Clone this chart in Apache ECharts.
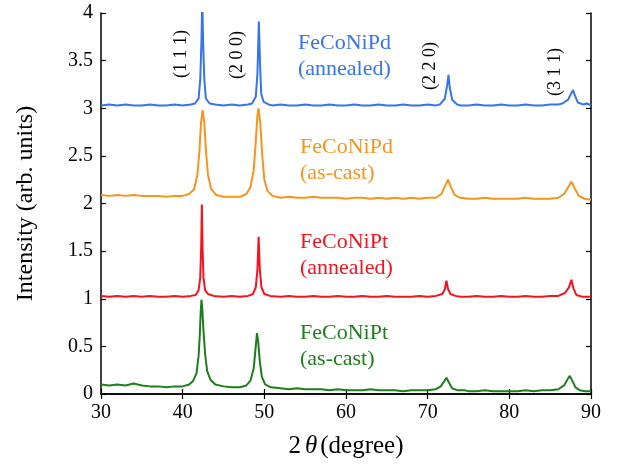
<!DOCTYPE html>
<html>
<head>
<meta charset="utf-8">
<script src="https://cdn.jsdelivr.net/npm/echarts@6/dist/echarts.min.js"></script>
<style>
  html, body { margin: 0; padding: 0; background: #fff; }
  #chart { width: 624px; height: 466px; }
</style>
</head>
<body>
<div id="chart"></div>
<script>
// XRD patterns, [2theta, intensity]
const ptAsCast = [
  [30,0.10],[31,0.09],[32,0.10],[33,0.09],[34,0.11],[35,0.09],[36,0.08],[37,0.08],[38,0.07],[39,0.08],[40,0.08],
  [40.8,0.10],[41.3,0.14],[41.7,0.22],[41.95,0.40],[42.1,0.62],[42.2,0.85],[42.3,0.99],[42.4,0.90],[42.55,0.66],
  [42.75,0.42],[43.0,0.24],[43.4,0.15],[44,0.10],[45,0.08],[46,0.07],[47,0.07],[47.8,0.09],[48.3,0.14],[48.7,0.27],
  [48.95,0.50],[49.1,0.64],[49.25,0.55],[49.45,0.34],[49.7,0.18],[50.1,0.10],[50.8,0.07],[52,0.06],[53,0.05],
  [54,0.06],[55,0.05],[56,0.05],[57,0.05],[58,0.04],[59,0.05],[60,0.04],[61,0.04],[62,0.04],[63,0.05],[64,0.04],
  [65,0.04],[66,0.04],[67,0.03],[68,0.04],[69,0.04],[70,0.04],[71,0.05],[71.6,0.08],[72.0,0.13],[72.3,0.17],
  [72.6,0.12],[73.0,0.06],[73.6,0.04],[74.5,0.04],[75,0.03],[76,0.03],[77,0.04],[78,0.03],[79,0.03],[80,0.03],
  [81,0.03],[82,0.04],[83,0.03],[84,0.04],[85,0.04],[86,0.05],[86.7,0.09],[87.1,0.15],[87.4,0.19],[87.7,0.14],
  [88.1,0.07],[88.6,0.04],[89.3,0.03],[90,0.03]
];
const ptAnnealed = [
  [30,1.03],[31,1.02],[32,1.03],[33,1.02],[34,1.03],[35,1.02],[36,1.03],[37,1.02],[38,1.02],[39,1.03],[40,1.02],
  [41,1.03],[41.6,1.04],[41.95,1.09],[42.15,1.22],[42.27,1.55],[42.35,1.99],[42.43,1.55],[42.55,1.22],[42.75,1.09],
  [43.1,1.05],[43.8,1.03],[45,1.02],[46,1.03],[47,1.02],[48,1.03],[48.6,1.05],[48.95,1.12],[49.15,1.30],[49.3,1.65],
  [49.45,1.30],[49.65,1.12],[50,1.05],[50.7,1.03],[52,1.02],[53,1.03],[54,1.02],[55,1.02],[56,1.03],[57,1.02],
  [58,1.02],[59,1.03],[60,1.02],[61,1.02],[62,1.03],[63,1.02],[64,1.02],[65,1.03],[66,1.02],[67,1.02],[68,1.02],
  [69,1.03],[70,1.02],[71,1.03],[71.8,1.05],[72.1,1.10],[72.3,1.19],[72.5,1.10],[72.8,1.05],[73.4,1.03],[74,1.02],
  [75,1.02],[76,1.03],[77,1.02],[78,1.02],[79,1.03],[80,1.02],[81,1.02],[82,1.03],[83,1.02],[84,1.02],[85,1.03],
  [86,1.03],[86.8,1.06],[87.3,1.12],[87.6,1.20],[87.85,1.11],[88.2,1.04],[89,1.02],[90,1.02]
];
const pdAsCast = [
  [30,2.09],[31,2.08],[32,2.09],[33,2.08],[34,2.09],[35,2.08],[36,2.08],[37,2.08],[38,2.07],[39,2.08],[40,2.08],
  [40.8,2.10],[41.4,2.15],[41.8,2.30],[42.05,2.55],[42.25,2.85],[42.45,2.98],[42.65,2.85],[42.85,2.55],[43.1,2.30],
  [43.5,2.15],[44.1,2.09],[45,2.07],[46,2.07],[47,2.07],[47.8,2.10],[48.3,2.17],[48.7,2.35],[48.95,2.65],[49.15,2.92],
  [49.3,3.00],[49.5,2.85],[49.75,2.50],[50.0,2.25],[50.4,2.13],[51,2.08],[52,2.06],[53,2.07],[54,2.06],[55,2.06],
  [56,2.07],[57,2.06],[58,2.06],[59,2.06],[60,2.05],[61,2.06],[62,2.06],[63,2.05],[64,2.06],[65,2.05],[66,2.06],
  [67,2.05],[68,2.06],[69,2.05],[70,2.06],[71,2.06],[71.7,2.10],[72.1,2.18],[72.5,2.25],[72.9,2.16],[73.3,2.09],
  [74,2.06],[75,2.05],[76,2.05],[77,2.06],[78,2.05],[79,2.05],[80,2.05],[81,2.05],[82,2.06],[83,2.05],[84,2.05],
  [85,2.05],[86,2.06],[86.7,2.10],[87.2,2.17],[87.6,2.23],[88.0,2.16],[88.5,2.08],[89.2,2.05],[90,2.04]
];
const pdAnnealed = [
  [30,3.03],[31,3.04],[32,3.03],[33,3.04],[34,3.03],[35,3.03],[36,3.04],[37,3.03],[38,3.03],[39,3.04],[40,3.03],
  [41,3.04],[41.5,3.05],[41.95,3.10],[42.15,3.30],[42.3,3.70],[42.4,4.15],[42.5,3.70],[42.65,3.30],[42.85,3.10],
  [43.3,3.05],[44,3.04],[45,3.03],[46,3.04],[47,3.03],[48,3.04],[48.5,3.05],[48.95,3.12],[49.15,3.35],[49.33,3.91],
  [49.48,3.45],[49.62,3.15],[49.9,3.07],[50.5,3.04],[51,3.03],[52,3.04],[53,3.03],[54,3.03],[55,3.04],[56,3.03],
  [57,3.03],[58,3.04],[59,3.03],[60,3.03],[61,3.04],[62,3.03],[63,3.03],[64,3.04],[65,3.03],[66,3.03],[67,3.04],
  [68,3.03],[69,3.03],[70,3.04],[71,3.03],[71.5,3.04],[72.1,3.10],[72.4,3.25],[72.55,3.35],[72.7,3.22],[73,3.09],
  [73.6,3.04],[74,3.03],[75,3.03],[76,3.04],[77,3.03],[78,3.03],[79,3.04],[80,3.03],[81,3.03],[82,3.04],[83,3.03],
  [84,3.03],[85,3.04],[86,3.04],[86.5,3.05],[87.2,3.09],[87.6,3.16],[87.8,3.19],[88.0,3.14],[88.4,3.06],[89,3.04],
  [89.5,3.05],[90,3.03]
];

const seriesNames = ['FeCoNiPt (as-cast)', 'FeCoNiPt (annealed)', 'FeCoNiPd (as-cast)', 'FeCoNiPd (annealed)'];
const seriesData = [ptAsCast, ptAnnealed, pdAsCast, pdAnnealed];
const seriesColors = ['#1c7f1c', '#f5141e', '#f7941d', '#3474ee'];

// sample labels drawn next to the curves
const sampleLabels = [
  { text: 'FeCoNiPd\n(annealed)', color: '#3474ee', x: 298, y: 30 },
  { text: 'FeCoNiPd\n(as-cast)', color: '#f7941d', x: 300, y: 134 },
  { text: 'FeCoNiPt\n(annealed)', color: '#f5141e', x: 300, y: 229 },
  { text: 'FeCoNiPt\n(as-cast)', color: '#1c7f1c', x: 300, y: 320 }
];
// Miller indices, rotated
const hklLabels = [
  { text: '(1 1 1)', x: 181, y: 54 },
  { text: '(2 0 0)', x: 237, y: 55 },
  { text: '(2 2 0)', x: 430, y: 66 },
  { text: '(3 1 1)', x: 555, y: 72 }
];

const FONT = '"Liberation Serif", "Times New Roman", serif';
const chart = echarts.init(document.getElementById('chart'), null, { renderer: 'canvas' });

const axisCommon = {
  axisLine: { show: true, lineStyle: { color: '#000', width: 1.5 } },
  axisTick: { show: true, inside: true, length: 5, lineStyle: { color: '#000', width: 1.2 } },
  splitLine: { show: false }
};

chart.setOption({
  backgroundColor: '#fff',
  animation: false,
  grid: { left: 101, right: 33, top: 13, bottom: 72 },
  xAxis: [
    Object.assign({
      type: 'value', min: 30, max: 90, interval: 10, position: 'bottom',
      axisLabel: { color: '#000', fontFamily: FONT, fontSize: 20, margin: 9 },
      name: '{n|2}{t|θ}{n|(degree)}',
      nameLocation: 'middle', nameGap: 40,
      nameTextStyle: {
        rich: {
          n: { fontFamily: FONT, fontSize: 25, color: '#000' },
          t: { fontFamily: FONT, fontSize: 25, color: '#000', fontStyle: 'italic', padding: [0, 3, 0, 4] }
        }
      }
    }, axisCommon),
    Object.assign({
      type: 'value', min: 30, max: 90, interval: 10, position: 'top',
      axisLabel: { show: false }
    }, axisCommon)
  ],
  yAxis: [
    Object.assign({
      type: 'value', min: 0, max: 4, interval: 0.5, position: 'left',
      axisLabel: { color: '#000', fontFamily: FONT, fontSize: 20, margin: 8 },
      name: 'Intensity (arb. units)',
      nameLocation: 'middle', nameGap: 63,
      nameTextStyle: { fontFamily: FONT, fontSize: 24, color: '#000' }
    }, axisCommon),
    Object.assign({
      type: 'value', min: 0, max: 4, interval: 0.5, position: 'right',
      axisLabel: { show: false }
    }, axisCommon)
  ],
  series: seriesData.map((d, i) => ({
    name: seriesNames[i],
    type: 'line',
    data: d,
    showSymbol: false,
    clip: true,
    smooth: false,
    lineStyle: { color: seriesColors[i], width: 2 },
    z: 2 + i
  })),
  graphic: sampleLabels.map(l => ({
    type: 'text',
    left: l.x, top: l.y,
    style: { text: l.text, fill: l.color, font: '22px ' + FONT, lineHeight: 26 }
  })).concat(hklLabels.map(l => ({
    type: 'text',
    x: l.x, y: l.y,
    rotation: Math.PI / 2,
    style: { text: l.text, fill: '#000', font: '18px ' + FONT, align: 'center', verticalAlign: 'middle' }
  })))
});
</script>
</body>
</html>
